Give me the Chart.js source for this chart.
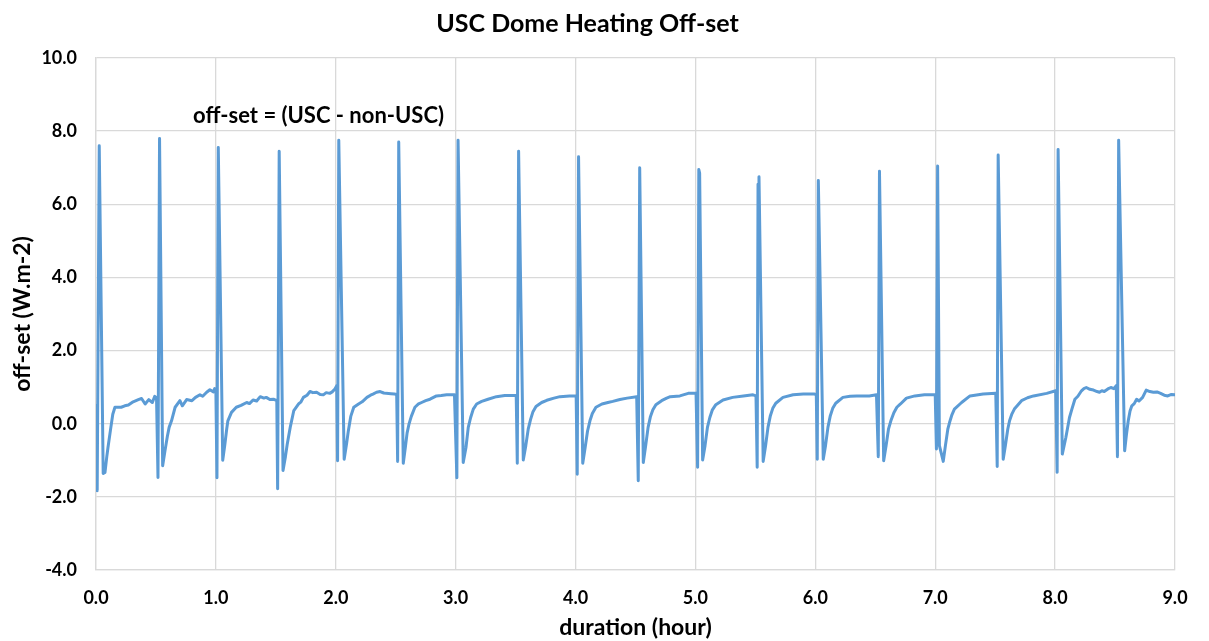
<!DOCTYPE html>
<html>
<head>
<meta charset="utf-8">
<script src="https://cdn.jsdelivr.net/npm/chart.js@4"></script>
<style>
  html, body { margin: 0; padding: 0; background: #ffffff; }
  #box { width: 1209px; height: 641px; }
</style>
</head>
<body>
<div id="box"><canvas id="myChart"></canvas></div>
<script>
// DATA: duration (hour) and off-set (W.m-2), one line per heating cycle
const durations = [
  0.0, 0.01, 0.027, 0.06, 0.075, 0.09, 0.10, 0.12, 0.14, 0.158, 0.21, 0.24, 0.27, 0.31, 0.353, 0.38, 0.41, 0.44, 0.47, 0.49, 0.505,
  0.517, 0.53, 0.556, 0.575, 0.595, 0.61, 0.63, 0.66, 0.70, 0.72, 0.756, 0.80, 0.83, 0.867, 0.89, 0.923, 0.95, 0.98, 0.99, 1.0,
  1.009, 1.02, 1.057, 1.075, 1.09, 1.10, 1.13, 1.17, 1.21, 1.257, 1.28, 1.31, 1.34, 1.37, 1.40, 1.42, 1.45, 1.48, 1.508,
  1.515, 1.528, 1.56, 1.58, 1.595, 1.62, 1.65, 1.69, 1.71, 1.73, 1.76, 1.785, 1.81, 1.84, 1.87, 1.896, 1.92, 1.95, 1.97, 1.993, 2.008,
  2.015, 2.025, 2.07, 2.09, 2.105, 2.125, 2.15, 2.19, 2.22, 2.26, 2.29, 2.31, 2.34, 2.37, 2.40, 2.42, 2.46, 2.49, 2.508,
  2.516, 2.525, 2.563, 2.58, 2.595, 2.61, 2.63, 2.66, 2.69, 2.716, 2.75, 2.786, 2.84, 2.88, 2.925, 2.99,
  3.01, 3.02, 3.063, 3.086, 3.105, 3.125, 3.147, 3.175, 3.217, 3.27, 3.34, 3.41, 3.505,
  3.514, 3.525, 3.564, 3.585, 3.605, 3.625, 3.645, 3.67, 3.717, 3.76, 3.82, 3.87, 3.95, 4.005,
  4.014, 4.025, 4.06, 4.08, 4.10, 4.12, 4.14, 4.17, 4.22, 4.27, 4.31, 4.37, 4.43, 4.51,
  4.523, 4.535, 4.565, 4.585, 4.605, 4.625, 4.645, 4.67, 4.718, 4.76, 4.79, 4.87, 4.94, 5.005,
  5.018, 5.028, 5.035, 5.06, 5.08, 5.10, 5.12, 5.14, 5.17, 5.23, 5.31, 5.40, 5.48, 5.505,
  5.515, 5.522, 5.53, 5.565, 5.585, 5.605, 5.625, 5.645, 5.67, 5.73, 5.815, 5.90, 5.99, 6.008,
  6.016, 6.025, 6.066, 6.085, 6.105, 6.125, 6.145, 6.17, 6.23, 6.29, 6.345, 6.45, 6.51,
  6.525, 6.535, 6.57, 6.59, 6.61, 6.63, 6.655, 6.68, 6.71, 6.76, 6.83, 6.91, 7.0,
  7.01, 7.02, 7.035, 7.067, 7.085, 7.105, 7.12, 7.14, 7.16, 7.22, 7.29, 7.40, 7.505,
  7.517, 7.525, 7.567, 7.585, 7.605, 7.62, 7.64, 7.66, 7.72, 7.77, 7.82, 7.93, 8.005,
  8.017, 8.025, 8.06, 8.09, 8.12, 8.14, 8.165, 8.19, 8.22, 8.24, 8.26, 8.29, 8.32, 8.35, 8.37, 8.39, 8.41, 8.44, 8.465, 8.49, 8.51,
  8.52, 8.53, 8.58, 8.595, 8.61, 8.625, 8.64, 8.66, 8.68, 8.70, 8.73, 8.76, 8.79, 8.82, 8.85, 8.88, 8.91, 8.94, 8.97, 9.0
];
const offsets = [
  0.49, -1.83, 7.6, -1.36, -1.33, -0.9, -0.65, -0.19, 0.26, 0.45, 0.45, 0.49, 0.51, 0.6, 0.66, 0.69, 0.54, 0.66, 0.58, 0.75, 0.7,
  -1.47, 7.8, -1.15, -0.75, -0.35, -0.1, 0.08, 0.45, 0.63, 0.49, 0.66, 0.63, 0.72, 0.79, 0.75, 0.86, 0.93, 0.87, 0.96, 0.86,
  -1.48, 7.55, -1.0, -0.56, -0.15, 0.08, 0.31, 0.45, 0.5, 0.58, 0.55, 0.65, 0.62, 0.74, 0.7, 0.72, 0.66, 0.67, 0.63,
  -1.78, 7.45, -1.28, -0.9, -0.56, -0.1, 0.36, 0.54, 0.6, 0.72, 0.78, 0.88, 0.85, 0.86, 0.8, 0.79, 0.85, 0.83, 0.87, 0.95, 1.04,
  -1.01, 7.75, -0.97, -0.55, -0.19, 0.2, 0.45, 0.54, 0.6, 0.72, 0.78, 0.81, 0.86, 0.88, 0.84, 0.83, 0.82, 0.81, 0.8,
  -1.03, 7.7, -1.08, -0.65, -0.25, -0.02, 0.2, 0.45, 0.54, 0.58, 0.63, 0.67, 0.76, 0.77, 0.79, 0.79,
  -1.48, 7.75, -1.06, -0.65, -0.1, 0.17, 0.40, 0.54, 0.61, 0.67, 0.74, 0.77, 0.77,
  -1.08, 7.45, -0.99, -0.6, -0.15, 0.12, 0.33, 0.47, 0.58, 0.64, 0.7, 0.74, 0.76, 0.76,
  -1.38, 7.3, -1.08, -0.65, -0.2, 0.08, 0.28, 0.45, 0.54, 0.58, 0.61, 0.66, 0.70, 0.74,
  -1.56, 7.0, -1.06, -0.6, -0.1, 0.2, 0.38, 0.52, 0.63, 0.7, 0.74, 0.76, 0.83, 0.83,
  -1.19, 6.95, 6.85, -0.99, -0.6, -0.1, 0.17, 0.37, 0.52, 0.65, 0.72, 0.76, 0.79, 0.76,
  -1.19, 6.55, 6.75, -1.03, -0.6, -0.1, 0.22, 0.42, 0.56, 0.72, 0.79, 0.81, 0.81, 0.8,
  -0.97, 6.65, -0.97, -0.6, -0.1, 0.22, 0.42, 0.56, 0.72, 0.75, 0.76, 0.76, 0.79,
  -0.9, 6.9, -1.01, -0.6, -0.15, 0.08, 0.3, 0.45, 0.54, 0.70, 0.76, 0.79, 0.79,
  -0.69, 7.05, -0.6, -1.03, -0.6, -0.15, 0.04, 0.25, 0.40, 0.58, 0.76, 0.81, 0.83,
  -1.17, 7.35, -0.97, -0.6, -0.15, 0.08, 0.27, 0.40, 0.63, 0.71, 0.76, 0.83, 0.90,
  -1.33, 7.5, -0.83, -0.37, 0.17, 0.4, 0.67, 0.75, 0.90, 0.96, 0.99, 0.94, 0.92, 0.88, 0.86, 0.9, 0.88, 0.95, 0.99, 0.96, 1.04,
  -0.9, 7.75, -0.74, -0.3, 0.08, 0.35, 0.49, 0.55, 0.67, 0.62, 0.72, 0.92, 0.88, 0.86, 0.87, 0.83, 0.78, 0.76, 0.8, 0.79
];

const chartTitle = 'USC Dome Heating Off-set';
const xTitle = 'duration (hour)';
const yTitle = 'off-set (W.m-2)';
const noteText = 'off-set = (USC - non-USC)';
const notePos = [0.81, 8.42];

// Calibri-like fonts (Lato is the closest one installed)
Chart.defaults.font.family = 'Lato, "Open Sans", sans-serif';
Chart.defaults.color = '#000000';

const points = durations.map((d, i) => ({ x: d, y: offsets[i] }));

// text inside the plot, placed through the scales
const notePlugin = {
  id: 'note',
  afterDraw(chart) {
    const c = chart.ctx;
    const xs = chart.scales.x, ys = chart.scales.y;
    c.save();
    c.font = 'bold 22px Lato, "Open Sans", sans-serif';
    c.fillStyle = '#000000';
    c.textAlign = 'left';
    c.textBaseline = 'middle';
    c.fillText(noteText, xs.getPixelForValue(notePos[0]), ys.getPixelForValue(notePos[1]));
    c.restore();
  }
};

const ctx = document.getElementById('myChart').getContext('2d');

const myChart = new Chart(ctx, {
  type: 'line',
  data: {
    datasets: [{
      label: 'off-set',
      data: points,
      borderColor: '#5B9BD5',
      backgroundColor: '#5B9BD5',
      borderWidth: 3,
      pointRadius: 0,
      tension: 0,
      borderJoinStyle: 'round',
      borderCapStyle: 'round'
    }]
  },
  options: {
    responsive: true,
    maintainAspectRatio: false,
    animation: false,
    layout: { padding: { left: 0, right: 34, top: 0, bottom: 0 } },
    plugins: {
      legend: { display: false },
      tooltip: { enabled: false },
      title: {
        display: true,
        text: chartTitle,
        font: { size: 25, weight: 'bold' },
        padding: { top: 9, bottom: 19 }
      }
    },
    scales: {
      x: {
        type: 'linear',
        min: 0,
        max: 9,
        ticks: {
          stepSize: 1,
          padding: 17,
          font: { size: 18, weight: 'bold' },
          callback: v => v.toFixed(1)
        },
        grid: { color: '#d9d9d9', lineWidth: 1.3, drawTicks: false },
        border: { color: '#d9d9d9', width: 1.3 },
        title: {
          display: true,
          text: xTitle,
          font: { size: 23, weight: 'bold' },
          padding: { top: 0, bottom: 0 }
        },
        afterFit: s => { s.height = 71; }
      },
      y: {
        min: -4,
        max: 10,
        ticks: {
          stepSize: 2,
          padding: 19,
          font: { size: 18, weight: 'bold' },
          callback: v => v.toFixed(1)
        },
        grid: { color: '#d9d9d9', lineWidth: 1.3, drawTicks: false },
        border: { color: '#d9d9d9', width: 1.3 },
        title: {
          display: true,
          text: yTitle,
          font: { size: 23, weight: 'bold' },
          padding: { top: 9, bottom: 0 }
        },
        afterFit: s => { s.width = 96; }
      }
    }
  },
  plugins: [notePlugin]
});
</script>
</body>
</html>
